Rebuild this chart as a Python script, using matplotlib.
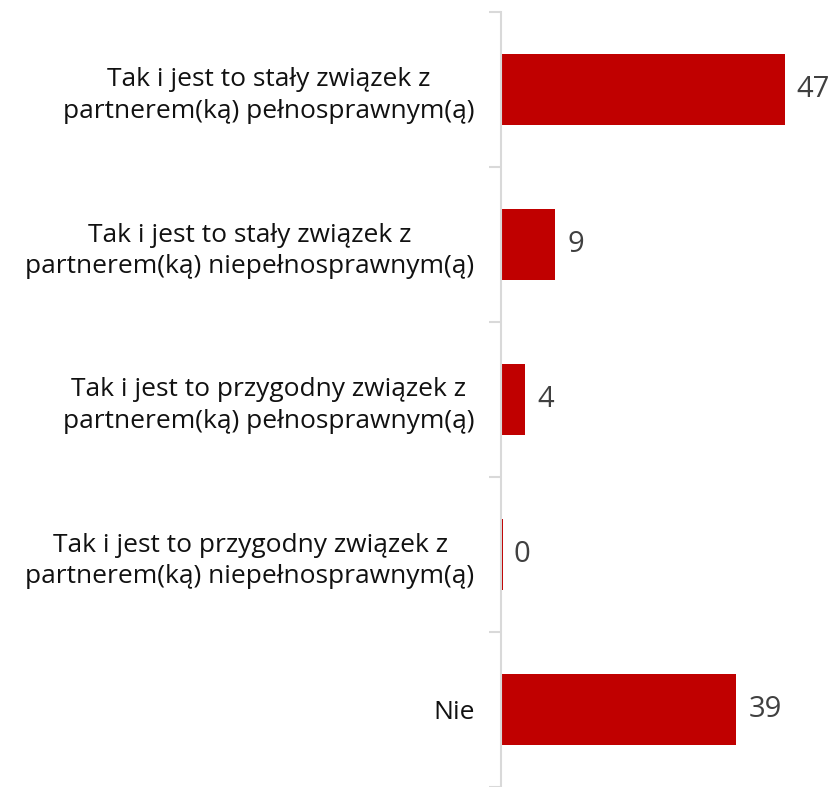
import matplotlib.pyplot as plt
import numpy as np

# Dane
categories = [
    "Tak i jest to stały związek z\npartnerem(ką) pełnosprawnym(ą)",
    "Tak i jest to stały związek z\npartnerem(ką) niepełnosprawnym(ą)",
    "Tak i jest to przygodny związek z\npartnerem(ką) pełnosprawnym(ą)",
    "Tak i jest to przygodny związek z\npartnerem(ką) niepełnosprawnym(ą)",
    "Nie",
]
values = [47, 9, 4, 0, 39]

plt.rcParams['font.family'] = ['Open Sans', 'DejaVu Sans']

fig = plt.figure(figsize=(8.33, 7.87), dpi=100)
ax = fig.add_axes([501 / 833, 0.0, 1 - 501 / 833, 1 - 12 / 787])

y = np.arange(len(categories))
ax.barh(y, [max(v, 0.3) for v in values], height=0.46, color='#C00000')

for yi, v in zip(y, values):
    ax.text(v + 2.0, yi, str(v), va='center', ha='left', fontsize=21, color='#404040')

ax.set_xlim(0, 55)
ax.set_ylim(len(categories) - 0.5, -0.5)

ax.set_yticks(y)
ax.set_yticklabels(categories, fontsize=19, color='#111111', linespacing=1.32,
                   ha='right', multialignment='center')
ax.tick_params(axis='y', which='major', length=0, pad=19)
ax.set_yticks(np.arange(-0.5, len(categories) + 0.5, 1), minor=True)
ax.tick_params(axis='y', which='minor', length=9, width=1.5, color='#d9d9d9')
ax.set_xticks([])

for side in ['top', 'right', 'bottom']:
    ax.spines[side].set_visible(False)
ax.spines['left'].set_color('#d9d9d9')
ax.spines['left'].set_linewidth(1.5)

fig.savefig("out.png", dpi=100)
